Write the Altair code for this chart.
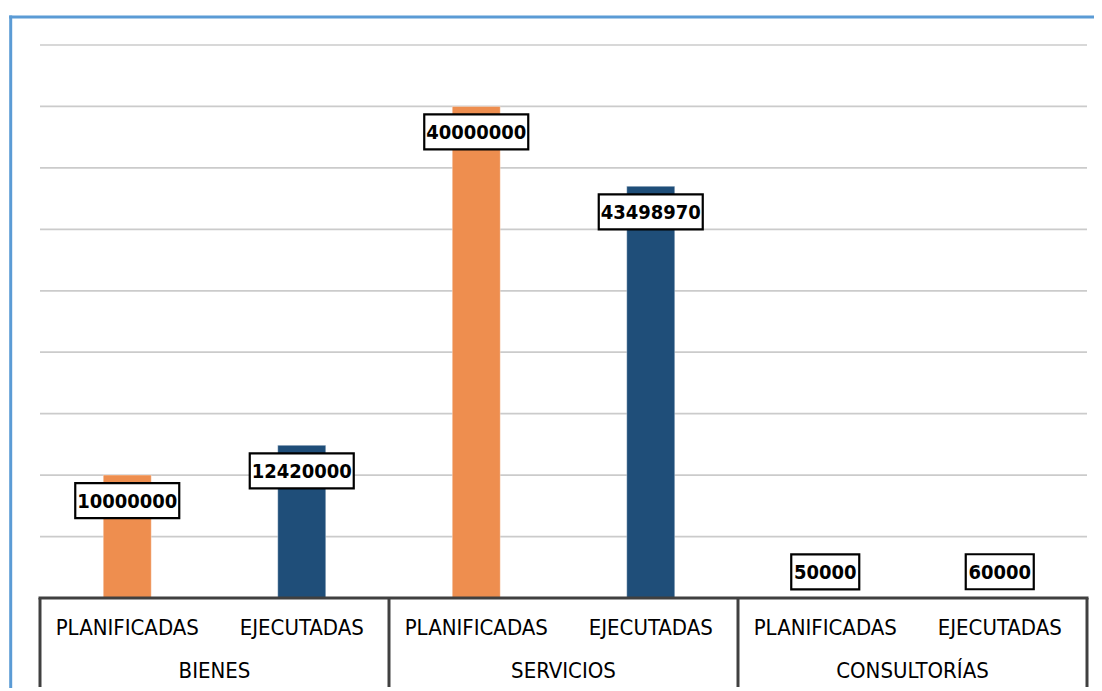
import altair as alt
import pandas as pd

groups = ["BIENES", "BIENES", "SERVICIOS", "SERVICIOS", "CONSULTORÍAS", "CONSULTORÍAS"]
types = ["PLANIFICADAS", "EJECUTADAS", "PLANIFICADAS", "EJECUTADAS", "PLANIFICADAS", "EJECUTADAS"]
# bar heights
values = [10000000, 12420000, 40000000, 33500000, 50000, 60000]
# data labels as printed on the picture
label_texts = ["10000000", "12420000", "40000000", "43498970", "50000", "60000"]
label_pos = ["inside", "inside", "inside", "inside", "above", "above"]
y_ticks = [5000000, 10000000, 15000000, 20000000, 25000000, 30000000, 35000000, 40000000, 45000000]

df = pd.DataFrame({"group": groups, "type": types, "value": values,
                   "label": label_texts, "pos": label_pos})
df["key"] = df["group"] + "|" + df["type"]
keys = list(df["key"])
grid_df = pd.DataFrame({"tick": y_ticks})

W, H = 1047, 553
FONT = "DejaVu Sans Condensed, DejaVu Sans, sans-serif"

xs = alt.Scale(domain=keys, paddingInner=0, paddingOuter=0)
ys = alt.Scale(domain=[0, 45000000], nice=False)
X = alt.X("key:N", scale=xs, axis=None)
Y = alt.Y("value:Q", scale=ys, axis=None)

base = alt.Chart(df)

grid = alt.Chart(grid_df).mark_rule(color="#cbcbcb", strokeWidth=1.7).encode(
    y=alt.Y("tick:Q", scale=ys, axis=None), x=alt.value(0), x2=alt.value(W))

bars = base.mark_bar(width=48, stroke="#ffffff", strokeOpacity=0.35, strokeWidth=1).encode(
    x=X, y=Y,
    color=alt.Color("type:N", scale=alt.Scale(domain=["PLANIFICADAS", "EJECUTADAS"],
                                              range=["#EE8E4F", "#1F4E79"]), legend=None),
)

PATH_LONG = "M-1,-0.3365L1,-0.3365L1,0.3365L-1,0.3365Z"
PATH_SHORT = "M-0.654,-0.3365L0.654,-0.3365L0.654,0.3365L-0.654,0.3365Z"

box_in = base.transform_filter(alt.datum.pos == "inside").mark_point(
    shape=PATH_LONG, filled=True, fill="white", stroke="black", strokeWidth=2.2,
    size=10816, opacity=1, yOffset=25.5).encode(x=X, y=Y)
box_out = base.transform_filter(alt.datum.pos == "above").mark_point(
    shape=PATH_SHORT, filled=True, fill="white", stroke="black", strokeWidth=2.2,
    size=10816, opacity=1, yOffset=-25.5).encode(x=X, y=Y)
txt_in = base.transform_filter(alt.datum.pos == "inside").mark_text(
    font=FONT, fontWeight="bold", fontSize=20, baseline="middle", align="center",
    color="black", yOffset=26.5).encode(x=X, y=Y, text="label:N")
txt_out = base.transform_filter(alt.datum.pos == "above").mark_text(
    font=FONT, fontWeight="bold", fontSize=20, baseline="middle", align="center",
    color="black", yOffset=-24.5).encode(x=X, y=Y, text="label:N")

one = alt.Chart(pd.DataFrame({"a": [0]}))
frame_left = one.mark_rule(color="#5B9BD5", strokeWidth=3).encode(
    x=alt.value(-29.3), y=alt.value(-29.5), y2=alt.value(H + 100))
frame_top = one.mark_rule(color="#5B9BD5", strokeWidth=3).encode(
    x=alt.value(-30.8), x2=alt.value(W + 60), y=alt.value(-28))
baseline = one.mark_rule(color="#404040", strokeWidth=3).encode(
    x=alt.value(-1.5), x2=alt.value(W + 1.5), y=alt.value(H))

seps = base.transform_filter(alt.datum.type == "PLANIFICADAS").mark_rule(
    color="#404040", strokeWidth=3).encode(
    x=alt.X("key:N", scale=xs, axis=None, bandPosition=0), y=alt.value(H), y2=alt.value(H + 89))
sep_last = base.transform_filter(alt.datum.key == keys[-1]).mark_rule(
    color="#404040", strokeWidth=3).encode(
    x=alt.X("key:N", scale=xs, axis=None, bandPosition=1), y=alt.value(H), y2=alt.value(H + 89))

sub_labels = base.mark_text(font=FONT, fontSize=22, baseline="middle", align="center",
                            color="black").encode(
    x=X, y=alt.value(583), text="type:N")
grp_labels = base.transform_filter(alt.datum.type == "EJECUTADAS").mark_text(
    font=FONT, fontSize=22, baseline="middle", align="center", color="black").encode(
    x=alt.X("key:N", scale=xs, axis=None, bandPosition=0), y=alt.value(626), text="group:N")

chart = alt.layer(
    grid, bars, box_in, txt_in, box_out, txt_out, baseline, seps, sep_last,
    sub_labels, grp_labels, frame_left, frame_top
).properties(
    width=W, height=H,
    padding={"left": 32, "top": 37, "right": 7, "bottom": 90},
    autosize=alt.AutoSizeParams(type="none"),
    background="white",
).configure_view(stroke=None)

chart.save("out.html", embed_options={"renderer": "svg", "actions": False})
